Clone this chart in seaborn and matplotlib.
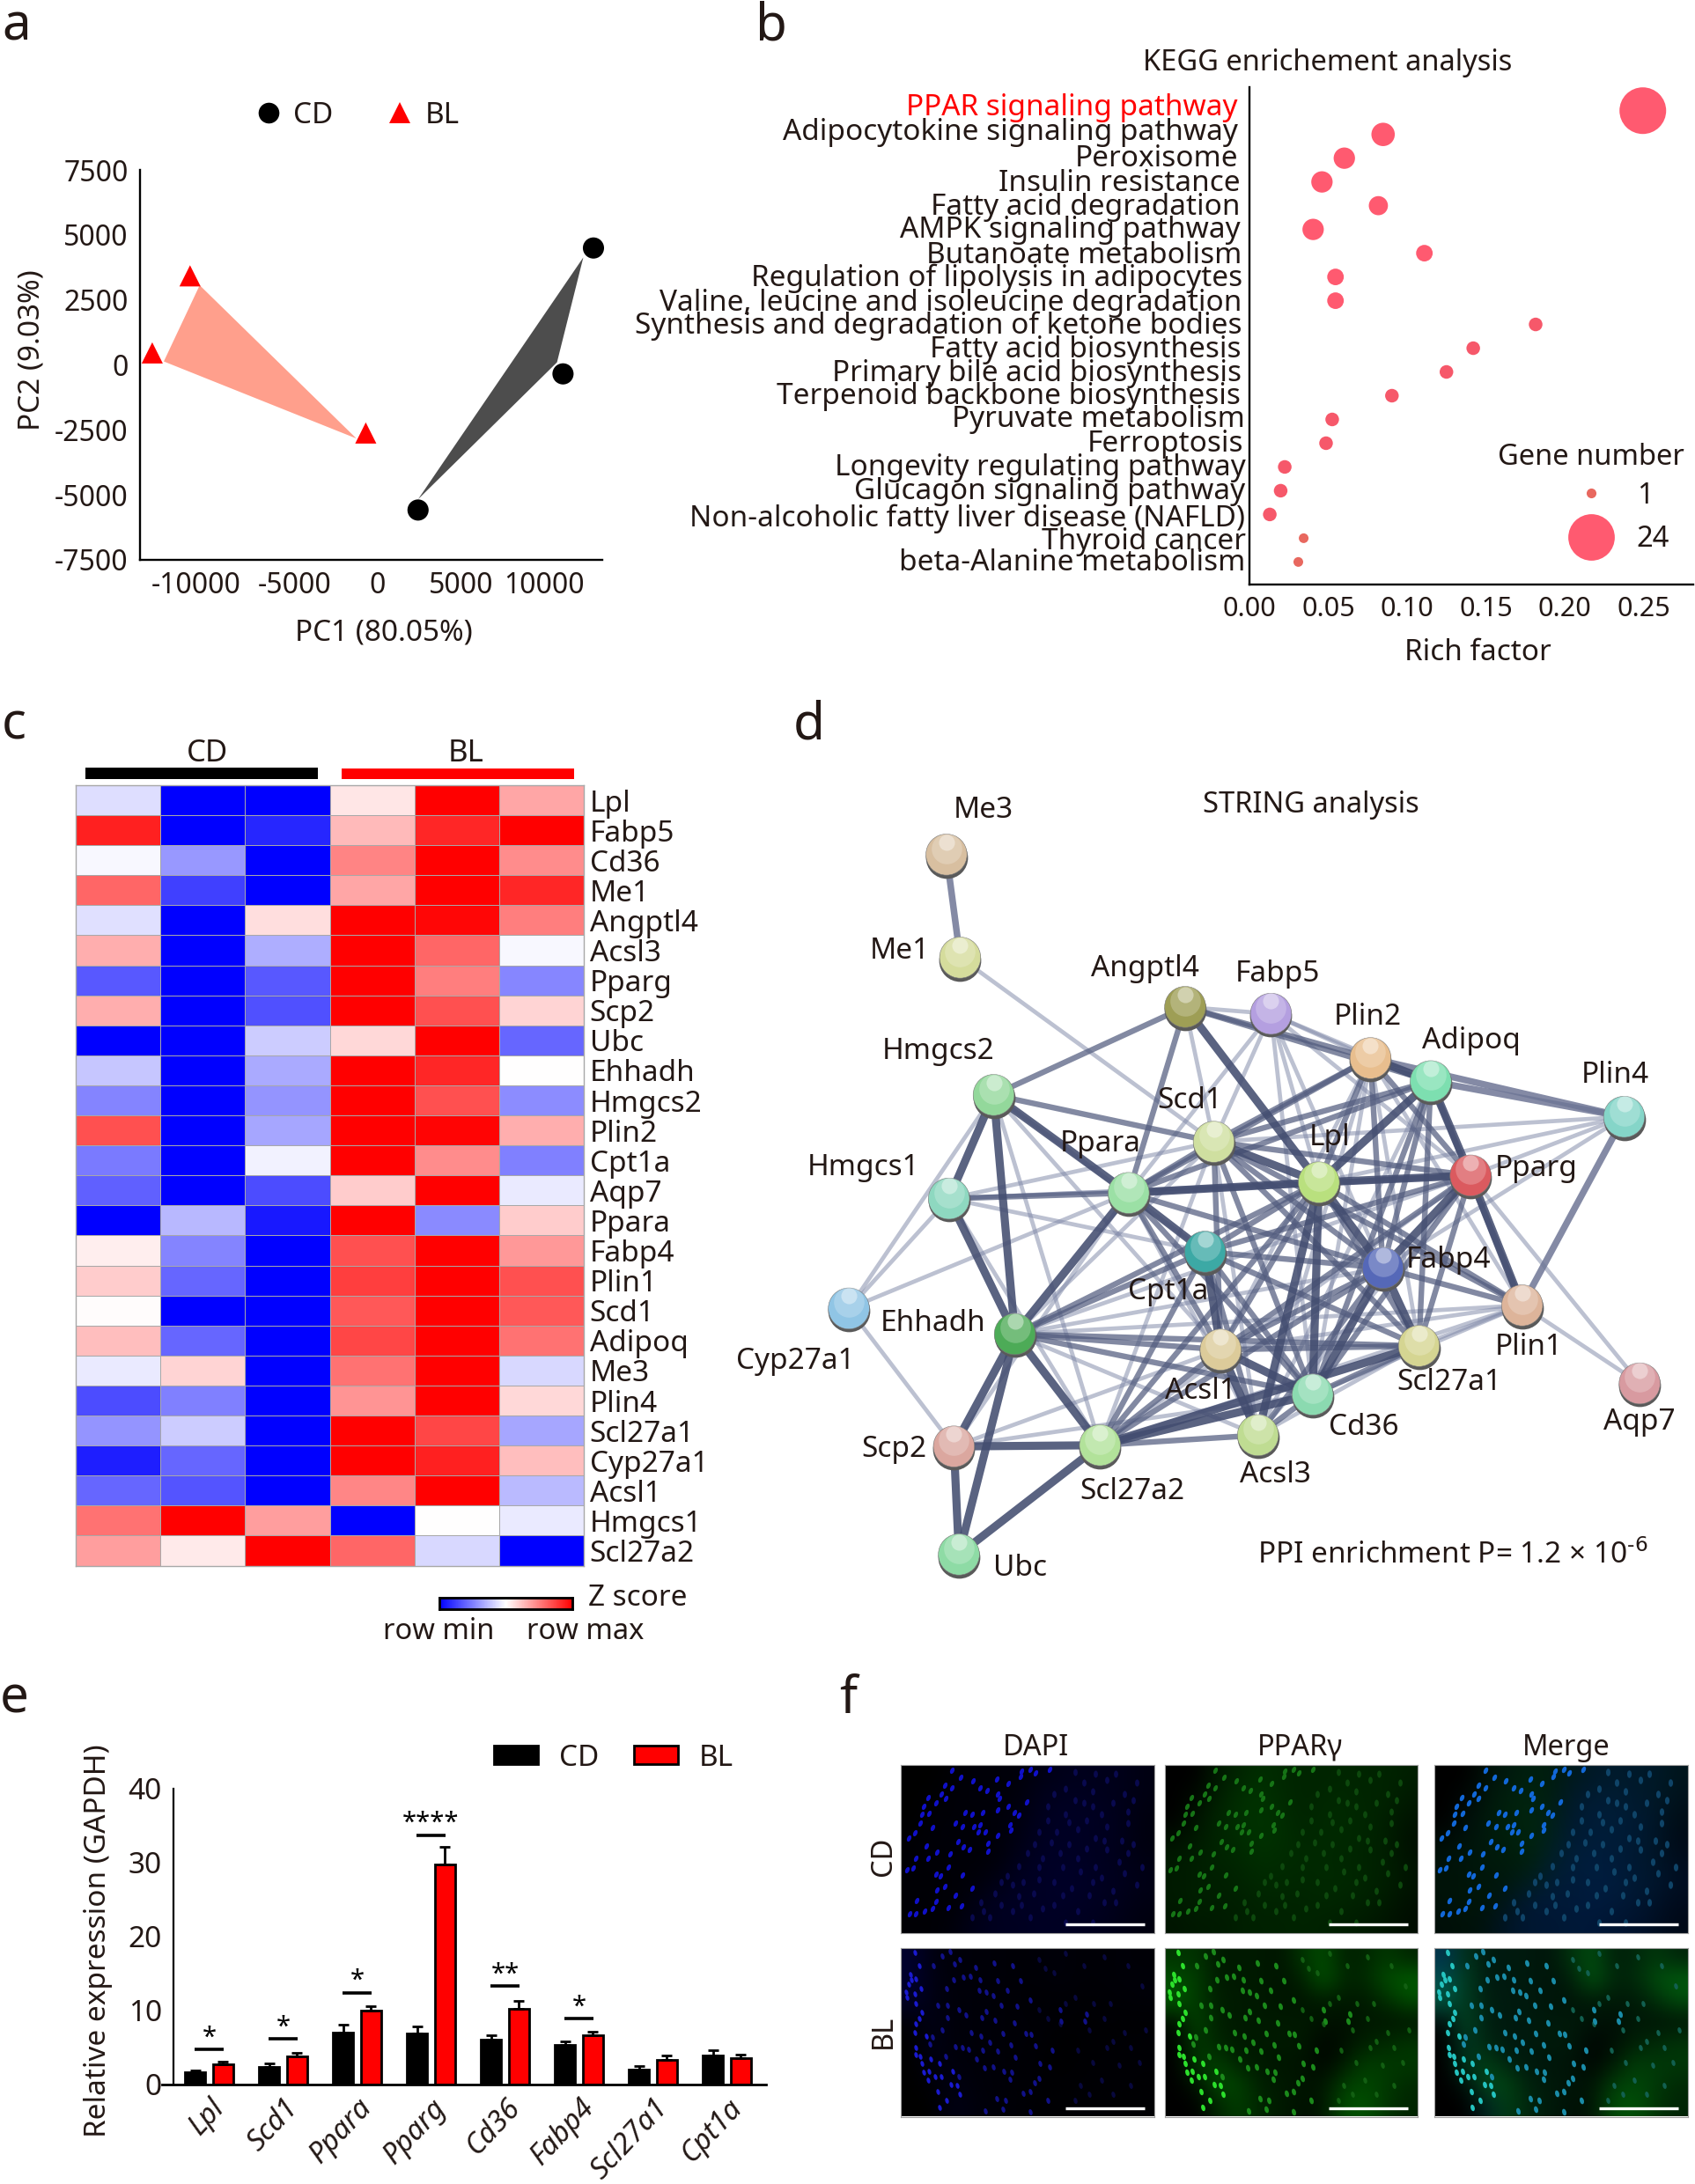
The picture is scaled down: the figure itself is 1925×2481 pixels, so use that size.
#!/usr/bin/env python3
"""Multi-panel figure: PCA, KEGG dots, heatmap, STRING network, qPCR bars, IF images."""
import numpy as np
import pandas as pd
import seaborn as sns
import matplotlib
matplotlib.use('Agg')
import matplotlib.pyplot as plt
from matplotlib.lines import Line2D
from matplotlib.markers import MarkerStyle
from matplotlib.patches import Patch
from matplotlib.transforms import Affine2D

W, H = 1925, 2481
INK = '#231815'
RED = '#FF0000'

# --- a: PCA
pca_group = ['CD', 'CD', 'CD', 'BL', 'BL', 'BL']
pca_pc1 = [12960, 11130, 2420, -11280, -13550, -720]
pca_pc2 = [4496, -346, -5583, 3425, 461, -2619]
hull_bl_x = [-10700, -12857, -1280]
hull_bl_y = [3063, 132, -2833]
hull_cd_x = [12350, 10770, 2420]
hull_cd_y = [4134, 99, -5171]

# --- b: KEGG
kegg_terms = ['PPAR signaling pathway', 'Adipocytokine signaling pathway', 'Peroxisome',
              'Insulin resistance', 'Fatty acid degradation', 'AMPK signaling pathway',
              'Butanoate metabolism', 'Regulation of lipolysis in adipocytes',
              'Valine, leucine and isoleucine degradation',
              'Synthesis and degradation of ketone bodies', 'Fatty acid biosynthesis',
              'Primary bile acid biosynthesis', 'Terpenoid backbone biosynthesis',
              'Pyruvate metabolism', 'Ferroptosis', 'Longevity regulating pathway',
              'Glucagon signaling pathway', 'Non-alcoholic fatty liver disease (NAFLD)',
              'Thyroid cancer', 'beta-Alanine metabolism']
kegg_rich = [0.2496, 0.0848, 0.0602, 0.046, 0.0818, 0.0404, 0.111, 0.0546, 0.0546, 0.1816,
             0.142, 0.125, 0.0904, 0.0525, 0.0486, 0.0224, 0.0198, 0.0129, 0.0344, 0.031]
kegg_genes = [24, 6, 5, 5, 4, 5, 3, 3, 3, 2, 2, 2, 2, 2, 2, 2, 2, 2, 1, 1]
# the labels were nudged by hand in the original, offsets in pixels
kegg_nudge_x = [-5, -5, -4, -2, -2, -2, 0, 0, 0, 0, -1, -1, -2, 3, 2, 4, 3, 3, 4, 4]
kegg_nudge_y = [7, 6.5, 3, 2, 2, 3.5, 1.5, 2, 1, 2.5, 2.5, 2.5, 3, 3.5, 2.5, 2.5, 2.5, -0.5, 0, 2.5]

# --- c: heatmap
heat_genes = ['Lpl', 'Fabp5', 'Cd36', 'Me1', 'Angptl4', 'Acsl3', 'Pparg', 'Scp2', 'Ubc', 'Ehhadh',
              'Hmgcs2', 'Plin2', 'Cpt1a', 'Aqp7', 'Ppara', 'Fabp4', 'Plin1', 'Scd1', 'Adipoq',
              'Me3', 'Plin4', 'Scl27a1', 'Cyp27a1', 'Acsl1', 'Hmgcs1', 'Scl27a2']
heat_values = [
    [-0.13, -1, -1, 0.10, 1, 0.35],
    [0.87, -1, -0.85, 0.27, 0.85, 1],
    [-0.03, -0.40, -1, 0.48, 1, 0.45],
    [0.60, -0.75, -1, 0.35, 1, 0.85],
    [-0.12, -1, 0.13, 1, 0.97, 0.50],
    [0.32, -1, -0.32, 1, 0.60, -0.03],
    [-0.65, -1, -0.65, 1, 0.50, -0.47],
    [0.32, -1, -0.68, 1, 0.68, 0.17],
    [-1, -1, -0.20, 0.15, 1, -0.60],
    [-0.22, -1, -0.33, 1, 0.85, 0],
    [-0.48, -1, -0.42, 1, 0.68, -0.45],
    [0.68, -1, -0.35, 1, 0.98, 0.32],
    [-0.52, -1, -0.05, 1, 0.45, -0.50],
    [-0.62, -1, -0.70, 0.20, 1, -0.08],
    [-1, -0.28, -0.90, 1, -0.46, 0.20],
    [0.07, -0.48, -1, 0.68, 1, 0.40],
    [0.20, -0.60, -1, 0.75, 1, 0.68],
    [0.01, -1, -1, 0.65, 1, 0.65],
    [0.25, -0.60, -1, 0.72, 1, 0.55],
    [-0.08, 0.17, -1, 0.55, 1, -0.15],
    [-0.70, -0.50, -1, 0.42, 1, 0.15],
    [-0.42, -0.20, -1, 1, 0.72, -0.35],
    [-0.88, -0.60, -1, 1, 0.87, 0.25],
    [-0.60, -0.67, -1, 0.47, 1, -0.27],
    [0.55, 1, 0.38, -1, 0, -0.08],
    [0.38, 0.08, 1, 0.60, -0.15, -1],
]

# --- d: STRING network, positions read in a 1565 x 1565 frame
node_names = ['Me3', 'Me1', 'Angptl4', 'Fabp5', 'Plin2', 'Adipoq', 'Plin4', 'Hmgcs2', 'Scd1', 'Ppara',
              'Lpl', 'Pparg', 'Hmgcs1', 'Cpt1a', 'Fabp4', 'Plin1', 'Cyp27a1', 'Ehhadh', 'Acsl1',
              'Scl27a1', 'Aqp7', 'Cd36', 'Acsl3', 'Scp2', 'Scl27a2', 'Ubc']
node_x = [361, 383, 745, 883, 1043, 1140, 1451, 437, 791, 654, 960, 1204, 365, 777, 1063, 1287, 204,
          471, 802, 1121, 1476, 950, 862, 373, 608, 381]
node_y = [269, 434, 513, 524, 595, 632, 689, 654, 729, 811, 794, 783, 820, 905, 931, 991, 996, 1037,
          1062, 1056, 1116, 1134, 1199, 1217, 1215, 1390]
node_colors = ['#D8BFA0', '#D5DC9C', '#9E9E55', '#B49FE0', '#E8BE8E', '#7DDFB0', '#85D5C8', '#93D89B',
               '#CFDFA0', '#9BE0A5', '#B9E07E', '#DB5A5F', '#8ED8C0', '#3CA9A5', '#5568B8', '#DDB49A',
               '#90C5E5', '#4DAB57', '#DCCB9A', '#D5D592', '#D89AA0', '#8BDAB0', '#BFDC92', '#DBA79F',
               '#B2E29A', '#8EDBA5']
label_x = [421, 286, 680, 893, 1038, 1205, 1436, 348, 752, 609, 978, 1310, 228, 718, 1168, 1297, 118,
           340, 770, 1170, 1476, 1032, 890, 277, 660, 480]
label_y = [198, 424, 452, 460, 530, 568, 623, 585, 664, 733, 722, 772, 770, 970, 918, 1058, 1080,
           1020, 1128, 1115, 1178, 1187, 1262, 1222, 1290, 1412]
edges_pale = 'Me3-Me1 Adipoq-Plin4 Plin4-Plin1 Plin2-Plin4'.split()
edges_strong = ('Hmgcs2-Hmgcs1 Hmgcs2-Ehhadh Hmgcs1-Ehhadh Hmgcs2-Ppara Ppara-Cpt1a Cpt1a-Acsl1 '
                'Ehhadh-Scp2 Ehhadh-Scl27a2 Ehhadh-Ubc Scp2-Ubc Scp2-Scl27a2 Scl27a2-Ubc Scl27a2-Cd36 '
                'Scl27a2-Scl27a1 Adipoq-Pparg Pparg-Plin1 Angptl4-Lpl Lpl-Fabp4 '
                'Plin2-Adipoq Acsl1-Acsl3 Acsl1-Cd36 Lpl-Cd36 Lpl-Acsl3 Scd1-Lpl Pparg-Fabp4 '
                'Pparg-Lpl Adipoq-Lpl Ppara-Lpl Ppara-Ehhadh Fabp4-Cd36 Fabp4-Scl27a1').split()
edges_medium = ('Angptl4-Ppara Angptl4-Plin2 Angptl4-Adipoq Angptl4-Hmgcs2 Ppara-Scd1 Ppara-Pparg '
                'Ppara-Adipoq Ppara-Plin2 Ppara-Fabp4 Ppara-Acsl1 Ppara-Cd36 Scd1-Pparg Scd1-Adipoq '
                'Scd1-Plin2 Scd1-Fabp4 Scd1-Acsl1 Scd1-Cd36 Scd1-Plin1 Scd1-Scl27a1 Lpl-Plin2 Lpl-Plin1 '
                'Lpl-Scl27a1 Lpl-Acsl1 Lpl-Cpt1a Lpl-Scl27a2 Lpl-Ehhadh Cpt1a-Pparg Cpt1a-Fabp4 '
                'Cpt1a-Cd36 Cpt1a-Scl27a1 Cpt1a-Acsl3 Fabp4-Adipoq Fabp4-Plin1 Fabp4-Acsl1 Fabp4-Plin2 '
                'Fabp4-Acsl3 Pparg-Plin2 Pparg-Cd36 Pparg-Scl27a1 Pparg-Acsl1 Adipoq-Plin1 Adipoq-Cd36 '
                'Adipoq-Scl27a1 Ehhadh-Acsl1 Ehhadh-Cd36 Ehhadh-Cpt1a Ehhadh-Scl27a1 '
                'Scl27a2-Acsl1 Scl27a2-Cpt1a Scl27a2-Fabp4 Scl27a2-Acsl3 Acsl3-Cd36 Cd36-Scl27a1 '
                'Acsl1-Scl27a1 Hmgcs2-Scd1 Hmgcs1-Ppara').split()
edges_weak = ('Me1-Scd1 Cyp27a1-Hmgcs2 Cyp27a1-Hmgcs1 Cyp27a1-Scp2 Cyp27a1-Ppara Hmgcs2-Scl27a2 '
              'Hmgcs2-Cpt1a Hmgcs2-Acsl1 Hmgcs1-Scd1 Hmgcs1-Lpl Hmgcs1-Pparg Hmgcs1-Cpt1a Hmgcs1-Scl27a2 '
              'Fabp5-Scd1 Fabp5-Ppara Fabp5-Lpl Fabp5-Plin2 Fabp5-Adipoq Fabp5-Fabp4 Fabp5-Pparg '
              'Fabp5-Cd36 Angptl4-Fabp5 Angptl4-Scd1 Plin4-Pparg Plin4-Scd1 Plin4-Lpl Plin4-Fabp4 '
              'Pparg-Aqp7 Plin1-Aqp7 Plin1-Scl27a1 Plin1-Cd36 Plin1-Acsl1 Plin2-Plin1 Plin2-Cd36 '
              'Plin2-Scl27a1 Plin2-Acsl1 Scp2-Acsl1 Scp2-Cd36 Scp2-Ppara Scl27a2-Plin1 Scl27a2-Scd1 '
              'Scl27a2-Pparg Acsl3-Scl27a1 Acsl3-Scd1 Acsl3-Ppara Acsl3-Plin2 Acsl3-Adipoq Acsl3-Pparg '
              'Ehhadh-Scd1 Ehhadh-Pparg Ehhadh-Fabp4 Ehhadh-Acsl3 Ehhadh-Plin1').split()

# --- e: qPCR
qpcr_genes = ['Lpl', 'Scd1', 'Ppara', 'Pparg', 'Cd36', 'Fabp4', 'Scl27a1', 'Cpt1a']
qpcr_cd = [1.6, 2.35, 7.0, 6.9, 6.0, 5.3, 2.0, 3.9]
qpcr_bl = [2.7, 3.8, 10.0, 29.7, 10.2, 6.6, 3.3, 3.5]
qpcr_cd_err = [0.3, 0.5, 1.0, 0.9, 0.6, 0.45, 0.4, 0.7]
qpcr_bl_err = [0.4, 0.5, 0.6, 2.4, 1.1, 0.5, 0.6, 0.5]
sig_index = [0, 1, 2, 3, 4, 5]
sig_level = [4.7, 6.1, 12.4, 33.7, 13.3, 8.9]
sig_marks = ['*', '*', '*', '****', '**', '*']

# --- f: immunofluorescence, coarse brightness (rows top to bottom)
cd_blue = [[.00, .00, .03, .05, .05, .05, .10, .14, .16, .15, .14, .10],
           [.00, .02, .04, .05, .05, .06, .14, .18, .18, .16, .14, .10],
           [.00, .04, .04, .04, .05, .08, .16, .20, .20, .18, .14, .08],
           [.02, .04, .04, .04, .05, .10, .18, .20, .20, .18, .14, .08],
           [.03, .04, .04, .04, .05, .14, .20, .22, .20, .18, .14, .10],
           [.03, .03, .04, .05, .10, .18, .20, .22, .22, .18, .16, .12],
           [.03, .03, .03, .10, .18, .20, .20, .22, .20, .18, .14, .10],
           [.03, .03, .06, .14, .18, .18, .20, .20, .18, .16, .12, .08]]
cd_green = [[.00, .00, .10, .14, .18, .16, .14, .14, .15, .14, .14, .12],
            [.00, .04, .12, .18, .20, .16, .14, .15, .16, .14, .14, .10],
            [.00, .08, .14, .18, .20, .18, .14, .16, .16, .15, .12, .08],
            [.06, .10, .14, .17, .20, .18, .15, .16, .16, .14, .12, .06],
            [.10, .12, .14, .15, .18, .17, .16, .16, .15, .14, .12, .07],
            [.10, .12, .12, .14, .16, .16, .15, .16, .16, .14, .12, .08],
            [.10, .12, .12, .12, .14, .14, .14, .15, .14, .13, .10, .06],
            [.08, .10, .10, .12, .13, .13, .14, .13, .12, .10, .08, .05]]
bl_blue = [[.30, .10, .06, .06, .05, .04, .05, .06, .04, .04, .05, .04],
           [.30, .12, .06, .06, .05, .04, .04, .06, .04, .04, .05, .05],
           [.26, .12, .06, .06, .05, .04, .03, .03, .03, .03, .04, .05],
           [.05, .14, .06, .06, .05, .04, .04, .03, .02, .03, .02, .02],
           [.00, .14, .06, .06, .05, .04, .04, .01, .02, .02, .03, .03],
           [.00, .12, .07, .06, .05, .04, .03, .01, .02, .03, .03, .03],
           [.00, .04, .12, .06, .05, .04, .03, .02, .03, .03, .03, .02],
           [.00, .00, .14, .08, .05, .04, .02, .02, .03, .03, .02, .02]]
bl_green = [[.20, .20, .10, .10, .10, .08, .20, .30, .12, .15, .22, .14],
            [.30, .24, .10, .10, .10, .08, .12, .34, .14, .16, .30, .36],
            [.35, .22, .12, .10, .10, .08, .08, .10, .10, .10, .18, .30],
            [.05, .28, .12, .10, .10, .10, .10, .08, .06, .10, .08, .08],
            [.00, .22, .14, .10, .10, .10, .10, .02, .06, .12, .16, .20],
            [.00, .22, .24, .12, .10, .08, .08, .02, .10, .24, .22, .22],
            [.00, .06, .30, .26, .12, .10, .08, .08, .24, .28, .22, .16],
            [.00, .00, .14, .24, .14, .10, .06, .08, .30, .32, .20, .14]]
cd_bright_x = [172, 148, 203, 243, 268, 325, 405, 365, 292, 328, 335, 428, 365, 135, 150, 118, 92, 75, 70, 95,
               105, 65, 45, 25, 85, 120, 90, 48, 40, 18, 118, 132, 165, 160, 208, 218, 240, 277, 328, 385,
               400, 183, 208, 248, 268, 262, 285, 370, 372, 328, 192, 212, 232, 295, 295, 120, 148, 185, 160,
               118, 52, 80, 28, 50, 105, 240, 205, 172, 440, 505, 458, 410]
cd_bright_y = [78, 68, 42, 55, 78, 48, 40, 62, 88, 100, 115, 125, 140, 100, 115, 128, 112, 140, 170, 165,
               215, 200, 232, 250, 278, 297, 318, 318, 352, 358, 372, 380, 305, 350, 375, 163, 170, 162, 155, 162,
               172, 200, 212, 210, 205, 230, 230, 205, 222, 240, 262, 280, 288, 268, 295, 428, 415, 447, 487,
               468, 463, 500, 510, 510, 492, 420, 482, 18, 15, 15, 28, 20]
cd_dim_x = [560, 620, 660, 700, 760, 800, 500, 560, 620, 680, 770, 470, 530, 600, 660, 750, 790, 700, 430, 480,
            540, 600, 660, 740, 820, 380, 415, 360, 450, 520, 580, 650, 720, 800, 320, 270, 240, 300, 380, 440,
            520, 600, 690, 590, 650, 730, 790, 520, 590, 650, 720, 500, 570, 630, 700, 770, 455, 510, 570, 630,
            690, 770, 400, 470, 550, 610, 680, 760, 340, 400, 470, 550, 640, 730, 280, 340, 410, 480, 560, 650]
cd_dim_y = [80, 60, 30, 50, 100, 60, 140, 170, 130, 170, 160, 230, 230, 220, 250, 260, 270, 290, 300, 320,
            300, 320, 350, 330, 350, 410, 400, 380, 440, 400, 420, 400, 430, 410, 440, 470, 520, 520, 500, 520,
            480, 500, 470, 25, 90, 30, 120, 100, 120, 140, 130, 190, 195, 190, 210, 200, 270, 265, 270, 285,
            260, 300, 345, 350, 350, 365, 385, 370, 400, 450, 390, 445, 445, 470, 500, 480, 480, 490, 540, 540]
bl_bright_x = [315, 252, 182, 200, 110, 140, 165, 327, 268, 235, 178, 212, 155, 265, 290, 312, 360, 380, 405, 440,
               195, 158, 125, 288, 220, 158, 340, 395, 275, 320, 385, 138, 238, 272, 345, 300, 425, 442, 458, 185,
               230, 208, 277, 328, 372, 388, 255, 282, 312, 348, 375, 370, 472, 505, 455, 468, 325, 355, 440, 498,
               415, 545, 540, 625, 630, 515, 105, 98, 150, 195, 285, 345, 440]
bl_bright_y = [52, 67, 55, 40, 60, 28, 12, 112, 110, 97, 110, 100, 140, 145, 150, 162, 145, 62, 112, 178,
               212, 197, 195, 217, 230, 237, 195, 200, 237, 248, 255, 280, 290, 300, 293, 323, 292, 295, 335, 338,
               345, 340, 348, 352, 332, 372, 378, 410, 405, 420, 425, 448, 395, 405, 460, 445, 513, 520, 490, 520,
               495, 250, 210, 250, 225, 350, 305, 328, 370, 438, 555, 550, 560]
bl_edge_x = [45, 30, 50, 25, 68, 45, 18, 50, 70, 50, 45, 48, 50, 70, 95, 115, 125, 130, 130, 175, 170, 200,
             60, 35, 15, 62, 85, 75, 100, 65, 90, 135, 155, 190]
bl_edge_y = [15, 90, 105, 125, 140, 158, 170, 190, 220, 258, 290, 340, 365, 395, 420, 440, 490, 545, 395, 420, 465, 500,
             60, 110, 150, 240, 300, 425, 380, 370, 450, 440, 520, 470]
# dim cells in the stroma on the right of the BL row
bl_dim_x = [470, 520, 490, 560, 620, 690, 770, 820, 655, 710, 590, 500, 470, 560, 540, 640, 690, 760, 720, 780,
            830, 600, 650, 700, 610, 680, 740, 810, 590, 640, 720, 780]
bl_dim_y = [40, 85, 70, 20, 60, 30, 60, 130, 190, 190, 170, 240, 210, 190, 260, 280, 240, 290, 320, 340,
            280, 350, 390, 340, 470, 450, 400, 390, 520, 500, 500, 470]


def add_ax(left, top, right, bottom):
    """Axes from pixel bounds of the final image."""
    return fig.add_axes([left / W, 1 - bottom / H, (right - left) / W, (bottom - top) / H])


def put_text(x, y, s, **kw):
    kw.setdefault('ha', 'center')
    kw.setdefault('va', 'center')
    kw.setdefault('color', INK)
    return fig.text(x / W, 1 - y / H, s, **kw)


def panel_letter(x, baseline, s):
    put_text(x, baseline, s, ha='left', va='baseline', fontsize=42)


def nudge(label, dx, dy):
    label.set_transform(label.get_transform() + Affine2D().translate(dx, dy))


def style_axis(ax, lw=1.7):
    sns.despine(ax=ax)
    for side in ('left', 'bottom'):
        ax.spines[side].set_linewidth(lw)
        ax.spines[side].set_color('black')
    ax.tick_params(length=6.5, width=lw, color='black', labelcolor=INK, labelsize=23, pad=3)


sns.set_theme(style='white')
plt.rcParams['font.family'] = ['Noto Sans', 'DejaVu Sans']
plt.rcParams['mathtext.default'] = 'regular'
fig = plt.figure(figsize=(W / 100, H / 100), dpi=100, facecolor='white')

# ---------------------------------------------------------------- a
ax = add_ax(159, 193, 684, 636)
ax.fill(hull_bl_x, hull_bl_y, color='#FF9F8C', lw=0)
ax.fill(hull_cd_x, hull_cd_y, color='#4D4D4D', lw=0)
pca = pd.DataFrame({'PC1': pca_pc1, 'PC2': pca_pc2, 'group': pca_group})
sns.scatterplot(data=pca, x='PC1', y='PC2', hue='group', style='group', ax=ax, legend=False,
                palette={'CD': 'black', 'BL': RED}, markers={'CD': 'o', 'BL': '^'},
                s=300, linewidth=0, clip_on=False, zorder=3)
ax.set_xlim(-14286, 13490)
ax.set_ylim(-7500, 7500)
ax.set_xticks([-10000, -5000, 0, 5000, 10000])
ax.set_yticks([-7500, -5000, -2500, 0, 2500, 5000, 7500])
ax.set_xticklabels(['-10000', '-5000', '0', '5000', '10000'])
ax.set_yticklabels(['-7500', '-5000', '-2500', '0', '2500', '5000', '7500'])
style_axis(ax)
nudge(ax.get_xticklabels()[0], -17, 0)
ax.set_xlabel('')
ax.set_ylabel('')
put_text(436, 719, 'PC1 (80.05%)', fontsize=24)
put_text(36, 398, 'PC2 (9.03%)', fontsize=24, rotation=90)
fig.legend(handles=[Line2D([], [], marker='o', ls='', color='black', ms=17, mew=0, label='CD'),
                    Line2D([], [], marker='^', ls='', color=RED, ms=17, mew=0, label='BL')],
           ncol=2, frameon=False, fontsize=24, loc='center', bbox_to_anchor=(405 / W, 1 - 131 / H),
           columnspacing=1.76, handlelength=1, handletextpad=0.35, labelcolor=INK)
panel_letter(2, 46, 'a')

# ---------------------------------------------------------------- b
ax = add_ax(1419, 99, 1923, 664)
kegg = pd.DataFrame({'term': kegg_terms, 'rich': kegg_rich, 'genes': kegg_genes})
gene_sizes = {1: 63, 2: 124, 3: 184, 4: 245, 5: 305, 6: 366, 24: 1456}
gene_hues = {n: '#FF5A70' for n in gene_sizes}
gene_hues[1] = '#E8685F'
gene_hues[2] = '#F6586A'
sns.scatterplot(data=kegg, x='rich', y='term', hue='genes', size='genes', sizes=gene_sizes,
                palette=gene_hues, linewidth=0, legend=False, ax=ax, clip_on=False)
ax.set_xlim(0, 0.2816)
ax.set_ylim(19.95, -0.99)
ax.set_xticks([0, 0.05, 0.10, 0.15, 0.20, 0.25])
ax.set_xticklabels(['0.00', '0.05', '0.10', '0.15', '0.20', '0.25'])
style_axis(ax)
ax.tick_params(axis='y', length=3, labelsize=24, pad=3)
ax.tick_params(axis='x', labelsize=22)
ax.get_yticklabels()[0].set_color(RED)
for lab, dx, dy in zip(ax.get_yticklabels(), kegg_nudge_x, kegg_nudge_y):
    nudge(lab, dx, dy)
ax.set_xlabel('')
ax.set_ylabel('')
put_text(1508, 71, 'KEGG enrichement analysis', fontsize=23.5)
put_text(1678, 741, 'Rich factor', fontsize=24)
put_text(1807, 519, 'Gene number', fontsize=23.5)
ax.legend(handles=[Line2D([], [], marker='o', ls='', color=gene_hues[1], ms=8, mew=0, label='1'),
                   Line2D([], [], marker='o', ls='', color=gene_hues[24], ms=38, mew=0, label='24')],
          fontsize=23.5, frameon=False, loc='center',
          bbox_to_anchor=(1835 / W, 1 - 588 / H), bbox_transform=fig.transFigure, labelspacing=0.5,
          handletextpad=0.6, labelcolor=INK)
panel_letter(858, 46, 'b')

# ---------------------------------------------------------------- c
ax = add_ax(86.4, 892, 662.6, 1778.6)
cax = add_ax(499, 1815, 650, 1828)
heat = pd.DataFrame(heat_values, index=heat_genes)
sns.heatmap(heat, cmap='bwr', vmin=-1, vmax=1, ax=ax, linewidths=0.7, linecolor='#A8A8A8',
            xticklabels=False, yticklabels=True, cbar_ax=cax, cbar_kws={'orientation': 'horizontal', 'ticks': []})
ax.yaxis.tick_right()
ax.tick_params(axis='y', length=0, labelsize=24, rotation=0, pad=5, labelcolor=INK)
for sp in ax.spines.values():
    sp.set_visible(True)
    sp.set_color('#A8A8A8')
    sp.set_linewidth(1)
for sp in cax.spines.values():
    sp.set_visible(True)
    sp.set_color('black')
    sp.set_linewidth(1.8)
bar_ax = add_ax(0, 0, W, H)
bar_ax.set_xlim(0, W)
bar_ax.set_ylim(H, 0)
bar_ax.axis('off')
bar_ax.patch.set_alpha(0)
bar_ax.fill_between([97, 361], 872, 885, color='black', lw=0)
bar_ax.fill_between([388, 652], 873, 885, color=RED, lw=0)
put_text(235, 856, 'CD', fontsize=25)
put_text(529, 856, 'BL', fontsize=25)
put_text(668, 1815, 'Z score', ha='left', fontsize=24)
put_text(498, 1853, 'row min', fontsize=23.5)
put_text(665, 1853, 'row max', fontsize=23.5)
panel_letter(2, 840, 'c')

# ---------------------------------------------------------------- d
ax = add_ax(820, 780, 1925, 1890)
ax.set_xlim(0, 1565)
ax.set_ylim(1565, 0)
ax.axis('off')
ax.patch.set_alpha(0)
pos = {n: (x, y) for n, x, y in zip(node_names, node_x, node_y)}
edge_styles = [(edges_weak, 3.4, '#7F88A8', 0.52), (edges_medium, 4.6, '#525C7E', 0.72),
               (edges_pale, 5.4, '#6E7696', 0.85), (edges_strong, 6.6, '#434D70', 0.88)]
for edges, lw, col, alpha in edge_styles:
    for pair in edges:
        a, b = pair.split('-')
        ax.plot([pos[a][0], pos[b][0]], [pos[a][1], pos[b][1]], color=col, lw=lw, alpha=alpha,
                solid_capstyle='butt', zorder=1)
net = pd.DataFrame({'x': node_x, 'y': node_y, 'name': node_names})
# shadow, body, gloss: three passes of the same nodes
sns.scatterplot(data=net.assign(y=net['y'] + 4), x='x', y='y', color='#5A5A5A', s=1180, linewidth=0, ax=ax, zorder=2)
sns.scatterplot(data=net, x='x', y='y', hue='name', palette=dict(zip(node_names, node_colors)), s=1130,
                linewidth=0.4, edgecolor='#777777', legend=False, ax=ax, zorder=3)
sns.scatterplot(data=net.assign(y=net['y'] - 10), x='x', y='y', color='white', alpha=0.22, s=620,
                linewidth=0, ax=ax, zorder=4)
sns.scatterplot(data=net.assign(y=net['y'] - 20), x='x', y='y', color='white', alpha=0.4, s=170,
                linewidth=0, ax=ax, zorder=5)
ax.set_xlabel('')
ax.set_ylabel('')
for name, lx, ly in zip(node_names, label_x, label_y):
    ax.text(lx, ly, name, ha='center', va='center', fontsize=24, color=INK, zorder=6)
ax.text(948, 190, 'STRING analysis', ha='center', va='center', fontsize=23.5, color=INK)
ax.text(1175, 1392, r'PPI enrichment P= 1.2 × 10$^{\text{-6}}$', ha='center', va='center', fontsize=24, color=INK)
panel_letter(901, 840, 'd')

# ---------------------------------------------------------------- e
ax = add_ax(184, 2032, 869.5, 2367.6)
qpcr = pd.DataFrame({'gene': qpcr_genes * 2, 'value': qpcr_cd + qpcr_bl,
                     'group': ['CD'] * 8 + ['BL'] * 8})
sns.barplot(data=qpcr, x='gene', y='value', hue='group', palette={'CD': 'black', 'BL': RED}, width=0.74, gap=0.26,
            edgecolor='black', linewidth=2, errorbar=None, saturation=1, legend=False, ax=ax)
for bars, errs in zip(ax.containers, [qpcr_cd_err, qpcr_bl_err]):
    xs = [b.get_x() + b.get_width() / 2 for b in bars]
    hs = [b.get_height() for b in bars]
    ax.errorbar(xs, hs, yerr=[np.zeros(len(errs)), errs], fmt='none', ecolor='black', elinewidth=2,
                capsize=4, capthick=2, zorder=1)
ax.set_xlim(-0.637, 7.524)
ax.set_ylim(0, 40)
ax.set_yticks([0, 10, 20, 30, 40])
style_axis(ax, lw=2)
ax.tick_params(axis='y', labelsize=24)
ax.tick_params(axis='x', labelsize=23.5, pad=1)
ax.spines['left'].set_position(('data', -0.482))
ax.spines['left'].set_linewidth(1.6)
for lab in ax.get_xticklabels():
    lab.set_rotation(47)
    lab.set_ha('right')
    lab.set_rotation_mode('anchor')
    lab.set_style('italic')
ax.set_xlabel('')
ax.set_ylabel('')
for i, level, mark in zip(sig_index, sig_level, sig_marks):
    ax.plot([i - 0.2, i + 0.2], [level, level], color='black', lw=2.6, solid_capstyle='butt')
    ax.annotate(mark, (i, level), xytext=(0, -1), textcoords='offset points', ha='center', va='bottom',
                fontsize=21, color='black')
put_text(112, 2205, 'Relative expression (GAPDH)', fontsize=24, rotation=90)
fig.legend(handles=[Patch(fc='black', ec='black', lw=2, label='CD'), Patch(fc=RED, ec='black', lw=2, label='BL')],
           ncol=2, frameon=False, fontsize=24, loc='center', bbox_to_anchor=(697 / W, 1 - 1997 / H),
           handlelength=1.5, handleheight=0.58, columnspacing=1.2, handletextpad=0.7, labelcolor=INK)
panel_letter(0, 1945, 'e')


# ---------------------------------------------------------------- f
def micrograph(box, blue, green, spots):
    """Smooth background from the brightness grids, then the nuclei on top."""
    ax = add_ax(*box)
    rgb = np.dstack([np.zeros_like(blue), green, blue])
    ax.imshow(np.clip(rgb, 0, 1), extent=(0, 1, 1, 0), interpolation='bicubic', aspect='auto')
    for xs, ys, colour, size, angle in spots:
        mark = MarkerStyle('o', transform=Affine2D().scale(0.6, 1.0).rotate_deg(angle))
        sns.scatterplot(x=np.array(xs) / 861, y=np.array(ys) / 575, color=colour, s=size, marker=mark,
                        linewidth=0, ax=ax)
    ax.plot([0.649, 0.962], [0.948, 0.948], color='white', lw=2.4, solid_capstyle='butt')
    ax.set_xlim(0, 1)
    ax.set_ylim(1, 0)
    ax.set_xticks([])
    ax.set_yticks([])
    for sp in ax.spines.values():
        sp.set_color('#A0A0A0')
        sp.set_linewidth(0.8)
        sp.set_visible(True)


col_boxes = [(1023.5, 1311), (1322.6, 1610), (1629, 1917)]
row_boxes = [(2005, 2196), (2212.5, 2404.5)]
cd_b, cd_g = np.array(cd_blue), np.array(cd_green)
bl_b, bl_g = np.array(bl_blue), np.array(bl_green)
none_g = np.zeros_like(cd_g)
cd_tilt, bl_tilt = -25, 15

micrograph((col_boxes[0][0], row_boxes[0][0], col_boxes[0][1], row_boxes[0][1]), cd_b * 0.7, none_g,
           [(cd_dim_x, cd_dim_y, '#09094E', 34, 0), (cd_bright_x, cd_bright_y, '#1010C8', 30, cd_tilt)])
micrograph((col_boxes[1][0], row_boxes[0][0], col_boxes[1][1], row_boxes[0][1]), none_g, cd_g,
           [(cd_dim_x, cd_dim_y, '#0D480D', 34, 0), (cd_bright_x, cd_bright_y, '#167416', 30, cd_tilt)])
micrograph((col_boxes[2][0], row_boxes[0][0], col_boxes[2][1], row_boxes[0][1]), cd_b * 1.1, cd_g * 0.7,
           [(cd_dim_x, cd_dim_y, '#0F4468', 38, 0), (cd_bright_x, cd_bright_y, '#1268D8', 32, cd_tilt)])

micrograph((col_boxes[0][0], row_boxes[1][0], col_boxes[0][1], row_boxes[1][1]), bl_b * 0.6, none_g,
           [(bl_dim_x, bl_dim_y, '#08083E', 26, bl_tilt), (bl_bright_x, bl_bright_y, '#111188', 26, bl_tilt),
            (bl_edge_x, bl_edge_y, '#1A1AD0', 24, bl_tilt)])
micrograph((col_boxes[1][0], row_boxes[1][0], col_boxes[1][1], row_boxes[1][1]), none_g, bl_g,
           [(bl_dim_x, bl_dim_y, '#125F12', 26, bl_tilt), (bl_bright_x, bl_bright_y, '#1B8A1B', 32, bl_tilt),
            (bl_edge_x, bl_edge_y, '#2CE02C', 30, bl_tilt)])
micrograph((col_boxes[2][0], row_boxes[1][0], col_boxes[2][1], row_boxes[1][1]), bl_b, bl_g,
           [(bl_dim_x, bl_dim_y, '#126050', 26, bl_tilt), (bl_bright_x, bl_bright_y, '#1A8CA8', 32, bl_tilt),
            (bl_edge_x, bl_edge_y, '#25C4C0', 30, bl_tilt)])

put_text(1177, 1985, 'DAPI', fontsize=23.5)
put_text(1476.5, 1985, 'PPARγ', fontsize=23.5)
put_text(1778.7, 1985, 'Merge', fontsize=23.5)
put_text(1003, 2108.5, 'CD', fontsize=23.5, rotation=90)
put_text(1003, 2308, 'BL', fontsize=23.5, rotation=90)
panel_letter(953, 1946, 'f')

fig.savefig('out.png', dpi=100, facecolor='white')
